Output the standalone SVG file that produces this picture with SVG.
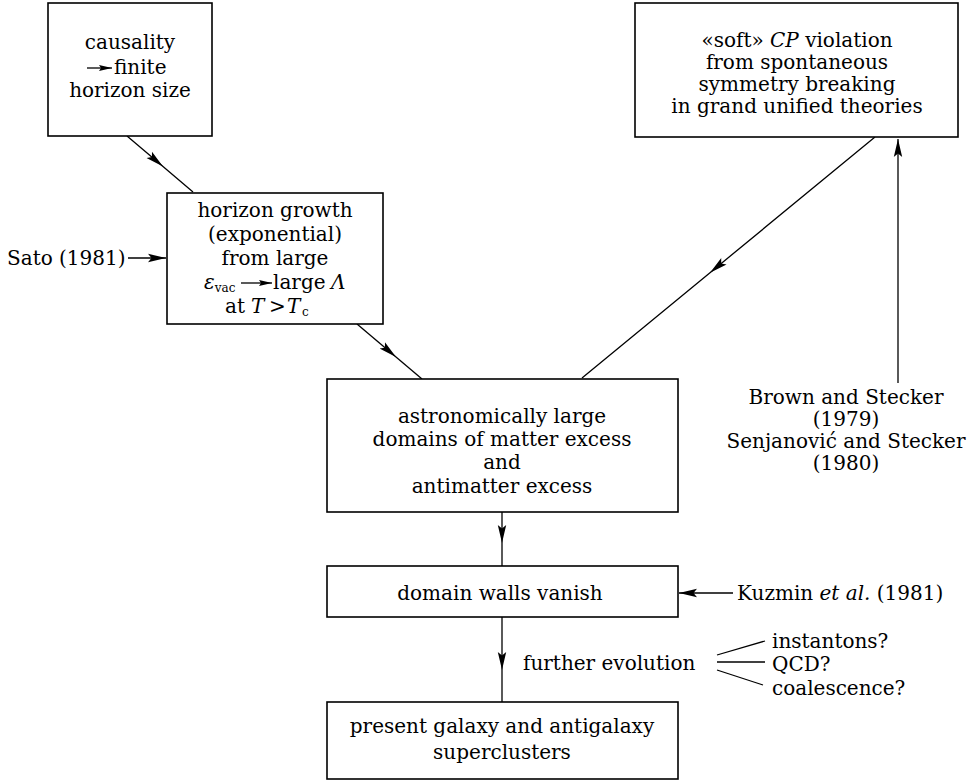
<svg xmlns="http://www.w3.org/2000/svg" width="970" height="783" viewBox="0 0 970 783">
<defs>
<style>
text{font-family:"DejaVu Serif","Liberation Serif",serif;font-size:20px;fill:#000}
.c{text-anchor:middle}
.i{font-style:italic}
.sub{font-size:12px}
.box{fill:#fff;stroke:#000;stroke-width:1.6}
.ln{fill:none;stroke:#000;stroke-width:1.3}
</style>
<marker id="ah" markerUnits="userSpaceOnUse" markerWidth="18" markerHeight="10" refX="18" refY="5" orient="auto" viewBox="0 0 18 10"><path d="M0,0.8 L18,5 L0,9.2 L3.5,5 Z" fill="#000"/></marker>
<marker id="sh" markerUnits="userSpaceOnUse" markerWidth="13" markerHeight="8" refX="13" refY="4" orient="auto" viewBox="0 0 13 8"><path d="M0,1 L13,4 L0,7 L2,4 Z" fill="#000"/></marker>
</defs>
<rect width="970" height="783" fill="#fff"/>

<g id="connectors">
<path class="ln" d="M127,136 L163,166.5 L193,192" marker-mid="url(#ah)"/>
<path class="ln" d="M357,324 L396,357 L422,379" marker-mid="url(#ah)"/>
<path class="ln" d="M875,137 L710,272.7 L582,378" marker-mid="url(#ah)"/>
<path class="ln" d="M502,512 L502,543 L502,566" marker-mid="url(#ah)"/>
<path class="ln" d="M502,617 L502,670 L502,702" marker-mid="url(#ah)"/>
<path class="ln" d="M128,258 L166,258" marker-end="url(#ah)"/>
<path class="ln" d="M733,593 L679,593" marker-end="url(#ah)"/>
<path class="ln" d="M898,383 L898,139" marker-end="url(#ah)"/>
<path class="ln" d="M717,655 L765,641"/>
<path class="ln" d="M717,662 L765,662"/>
<path class="ln" d="M717,670 L763,685"/>
</g>

<g id="n-causality">
<rect class="box" x="48" y="3" width="164" height="133"/>
<text class="c" x="130" y="49">causality</text>
<path class="ln" d="M87,68 L112,68" marker-end="url(#sh)"/>
<text x="114" y="74">finite</text>
<text class="c" x="130" y="97">horizon size</text>
</g>

<g id="n-horizon">
<rect class="box" x="167" y="193" width="216" height="131"/>
<text class="c" x="275" y="217">horizon growth</text>
<text class="c" x="275" y="241">(exponential)</text>
<text class="c" x="275" y="265">from large</text>
<text x="204" y="289"><tspan class="i">ε</tspan><tspan class="sub" dy="3">vac</tspan></text>
<path class="ln" d="M241,283 L272,283" marker-end="url(#sh)"/>
<text x="273" y="289">large</text>
<text class="i" x="331" y="289">Λ</text>
<text x="225" y="313">at</text>
<text class="i" x="251" y="313">T</text>
<text x="269" y="313">&gt;</text>
<text class="i" x="287" y="313">T</text>
<text class="sub" x="302" y="316">c</text>
</g>

<g id="n-softcp">
<rect class="box" x="635" y="3" width="323" height="134"/>
<text class="c" x="797" y="47">«soft» <tspan class="i">CP</tspan> violation</text>
<text class="c" x="797" y="69">from spontaneous</text>
<text class="c" x="797" y="91">symmetry breaking</text>
<text class="c" x="797" y="113">in grand unified theories</text>
</g>

<g id="n-domains">
<rect class="box" x="327" y="379" width="351" height="133"/>
<text class="c" x="502" y="423">astronomically large</text>
<text class="c" x="502" y="446">domains of matter excess</text>
<text class="c" x="502" y="469">and</text>
<text class="c" x="502" y="493">antimatter excess</text>
</g>

<g id="n-walls">
<rect class="box" x="327" y="566" width="351" height="51"/>
<text class="c" x="500" y="600">domain walls vanish</text>
</g>

<g id="n-present">
<rect class="box" x="327" y="702" width="351" height="77"/>
<text class="c" x="502" y="733">present galaxy and antigalaxy</text>
<text class="c" x="502" y="759">superclusters</text>
</g>

<g id="l-sato">
<text x="7" y="265">Sato (1981)</text>
</g>

<g id="l-brown">
<text class="c" x="846" y="404">Brown and Stecker</text>
<text class="c" x="846" y="426">(1979)</text>
<text class="c" x="846" y="448">Senjanović and Stecker</text>
<text class="c" x="846" y="470">(1980)</text>
</g>

<g id="l-kuzmin">
<text x="737" y="600">Kuzmin <tspan class="i">et al.</tspan> (1981)</text>
</g>

<g id="l-evolution">
<text x="523" y="670">further evolution</text>
</g>

<g id="l-options">
<text x="772" y="648">instantons?</text>
<text x="772" y="671">QCD?</text>
<text x="772" y="695">coalescence?</text>
</g>
</svg>
